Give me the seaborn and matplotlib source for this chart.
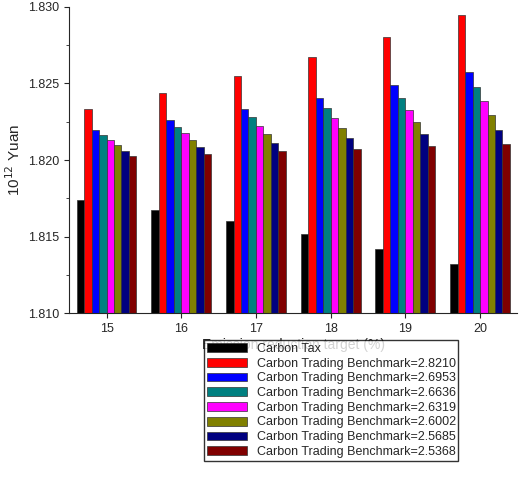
import pandas as pd
import seaborn as sns
import matplotlib.pyplot as plt
from matplotlib.ticker import MultipleLocator

targets = ["15", "16", "17", "18", "19", "20"]
series_names = ["Carbon Tax",
                "Carbon Trading Benchmark=2.8210",
                "Carbon Trading Benchmark=2.6953",
                "Carbon Trading Benchmark=2.6636",
                "Carbon Trading Benchmark=2.6319",
                "Carbon Trading Benchmark=2.6002",
                "Carbon Trading Benchmark=2.5685",
                "Carbon Trading Benchmark=2.5368"]
carbon_tax = [1.81738, 1.81672, 1.81599, 1.81514, 1.81421, 1.81321]
b28210 = [1.82332, 1.82436, 1.82549, 1.82670, 1.82807, 1.82948]
b26953 = [1.82195, 1.82260, 1.82332, 1.82408, 1.82488, 1.82575]
b26636 = [1.82163, 1.82217, 1.82278, 1.82341, 1.82408, 1.82477]
b26319 = [1.82130, 1.82176, 1.82223, 1.82275, 1.82330, 1.82386]
b26002 = [1.82095, 1.82130, 1.82167, 1.82208, 1.82247, 1.82293]
b25685 = [1.82061, 1.82087, 1.82113, 1.82141, 1.82169, 1.82197]
b25368 = [1.82026, 1.82041, 1.82056, 1.82072, 1.82089, 1.82102]
colors = ["#000000", "#ff0000", "#0000ff", "#008080", "#ff00ff", "#808000", "#000080", "#800000"]

all_vals = [carbon_tax, b28210, b26953, b26636, b26319, b26002, b25685, b25368]
rows = []
for name, vals in zip(series_names, all_vals):
    for t, v in zip(targets, vals):
        rows.append({"target": t, "series": name, "value": v})
df = pd.DataFrame(rows)

sns.set_style("ticks")
plt.rcParams['font.family'] = ['Arial', 'Liberation Sans', 'DejaVu Sans']
fig = plt.figure(figsize=(5.2, 4.97), dpi=100)
ax = fig.add_axes([0.133, 0.37, 0.862, 0.616])
sns.barplot(data=df, x="target", y="value", hue="series", palette=colors,
            saturation=1, width=0.8, edgecolor="#333333", linewidth=0.5,
            ax=ax, legend=True)
ax.set_ylim(1.810, 1.830)
ax.yaxis.set_major_locator(MultipleLocator(0.005))
ax.yaxis.set_minor_locator(MultipleLocator(0.0025))
ax.yaxis.set_major_formatter(plt.FormatStrFormatter("%.3f"))
ax.tick_params(labelsize=9)
ax.set_xlabel("Emission reduction target (%)", fontsize=10, labelpad=2)
ax.set_ylabel("10$^{12}$ Yuan", fontsize=11)
sns.despine(ax=ax)
ax.legend(loc="upper left", bbox_to_anchor=(198 / 520, 1 - 334 / 497),
          bbox_transform=fig.transFigure, fontsize=9,
          frameon=True, fancybox=False, edgecolor="black",
          handlelength=3.2, handleheight=0.7, borderpad=0.2, labelspacing=0.22)
fig.savefig("out.png", dpi=100)
